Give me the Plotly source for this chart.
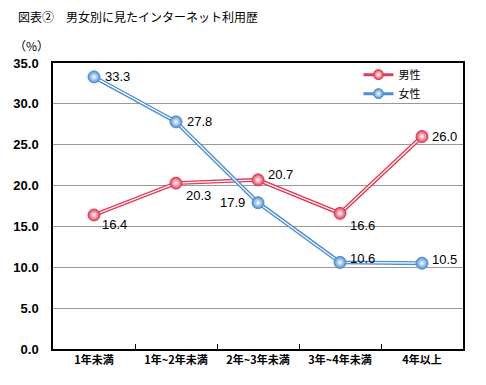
import plotly.graph_objects as go

categories = ["1年未満", "1年~2年未満", "2年~3年未満", "3年~4年未満", "4年以上"]
male = [16.4, 20.3, 20.7, 16.6, 26.0]
female = [33.3, 27.8, 17.9, 10.6, 10.5]
male_name = "男性"
female_name = "女性"
y_ticks = [0, 5, 10, 15, 20, 25, 30, 35]

RED = "#e33a55"
BLUE = "#4a8ed4"
JP = "Noto Sans CJK JP"
NUM = "Liberation Sans"

fig = go.Figure()

for vals, col, name in [(male, RED, male_name), (female, BLUE, female_name)]:
    fig.add_trace(go.Scatter(x=categories, y=vals, mode="lines", line=dict(color=col, width=4),
                             showlegend=False, hoverinfo="skip"))
    fig.add_trace(go.Scatter(x=categories, y=vals, mode="lines", line=dict(color="white", width=1.2),
                             showlegend=False, hoverinfo="skip"))
    fig.add_trace(go.Scatter(x=categories, y=vals, mode="markers", name=name,
                             marker=dict(size=12, color=col,
                                         gradient=dict(type="radial", color="white"),
                                         line=dict(color=col, width=1)),
                             showlegend=False))
    fig.add_trace(go.Scatter(x=[None], y=[None], mode="lines+markers", name=name,
                             line=dict(color=col, width=3),
                             marker=dict(size=10, color=col,
                                         gradient=dict(type="radial", color="white"),
                                         line=dict(color=col, width=1))))

male_off = [(20, 10), (22, 12), (22, -5), (22, 12), (22, 0)]
female_off = [(23, 0), (23, 0), (-26, 0), (22, -4), (22, -4)]
for vals, offs in [(male, male_off), (female, female_off)]:
    for c, v, (dx, dy) in zip(categories, vals, offs):
        fig.add_annotation(x=c, y=v, text=f"{v:.1f}", showarrow=False, xshift=dx, yshift=-dy,
                           font=dict(family=NUM, size=13, color="black"))

fig.add_annotation(xref="paper", yref="paper", x=-0.1, y=1.025, xanchor="left", yanchor="bottom",
                   text="（%）", showarrow=False, font=dict(family=JP, size=12, color="black"))
fig.add_annotation(xref="paper", yref="paper", x=-0.09, y=1.125, xanchor="left", yanchor="bottom",
                   text="図表②　男女別に見たインターネット利用歴", showarrow=False,
                   font=dict(family=JP, size=12, color="black"))

fig.update_layout(
    width=486, height=385,
    margin=dict(l=53, r=23, t=63, b=36, autoexpand=False),
    plot_bgcolor="white", paper_bgcolor="white",
    legend=dict(x=0.745, y=1.01, xanchor="left", yanchor="top", bgcolor="rgba(0,0,0,0)",
                font=dict(family=JP, size=11, color="black"), tracegroupgap=0,
                itemwidth=30),
    xaxis=dict(type="category", showgrid=False, ticks="inside", tickson="boundaries", ticklen=5,
               tickcolor="black", showline=True, linecolor="black", linewidth=1.5, mirror=True,
               tickfont=dict(family=JP, size=11, color="black", weight="bold"), range=[-0.5, 4.5]),
    yaxis=dict(range=[0, 35], tickvals=y_ticks, tickformat=".1f", showgrid=True, gridcolor="#999999",
               gridwidth=1, showline=True, linecolor="black", linewidth=1.5, mirror=True,
               ticks="outside", ticklen=10, tickcolor="rgba(0,0,0,0)",
               tickfont=dict(family=NUM, size=13, color="black", weight="bold"), zeroline=False),
)

fig.write_html("out.html", config={"displayModeBar": False},
               post_script="document.body.style.margin='0';document.body.style.overflow='hidden';")
